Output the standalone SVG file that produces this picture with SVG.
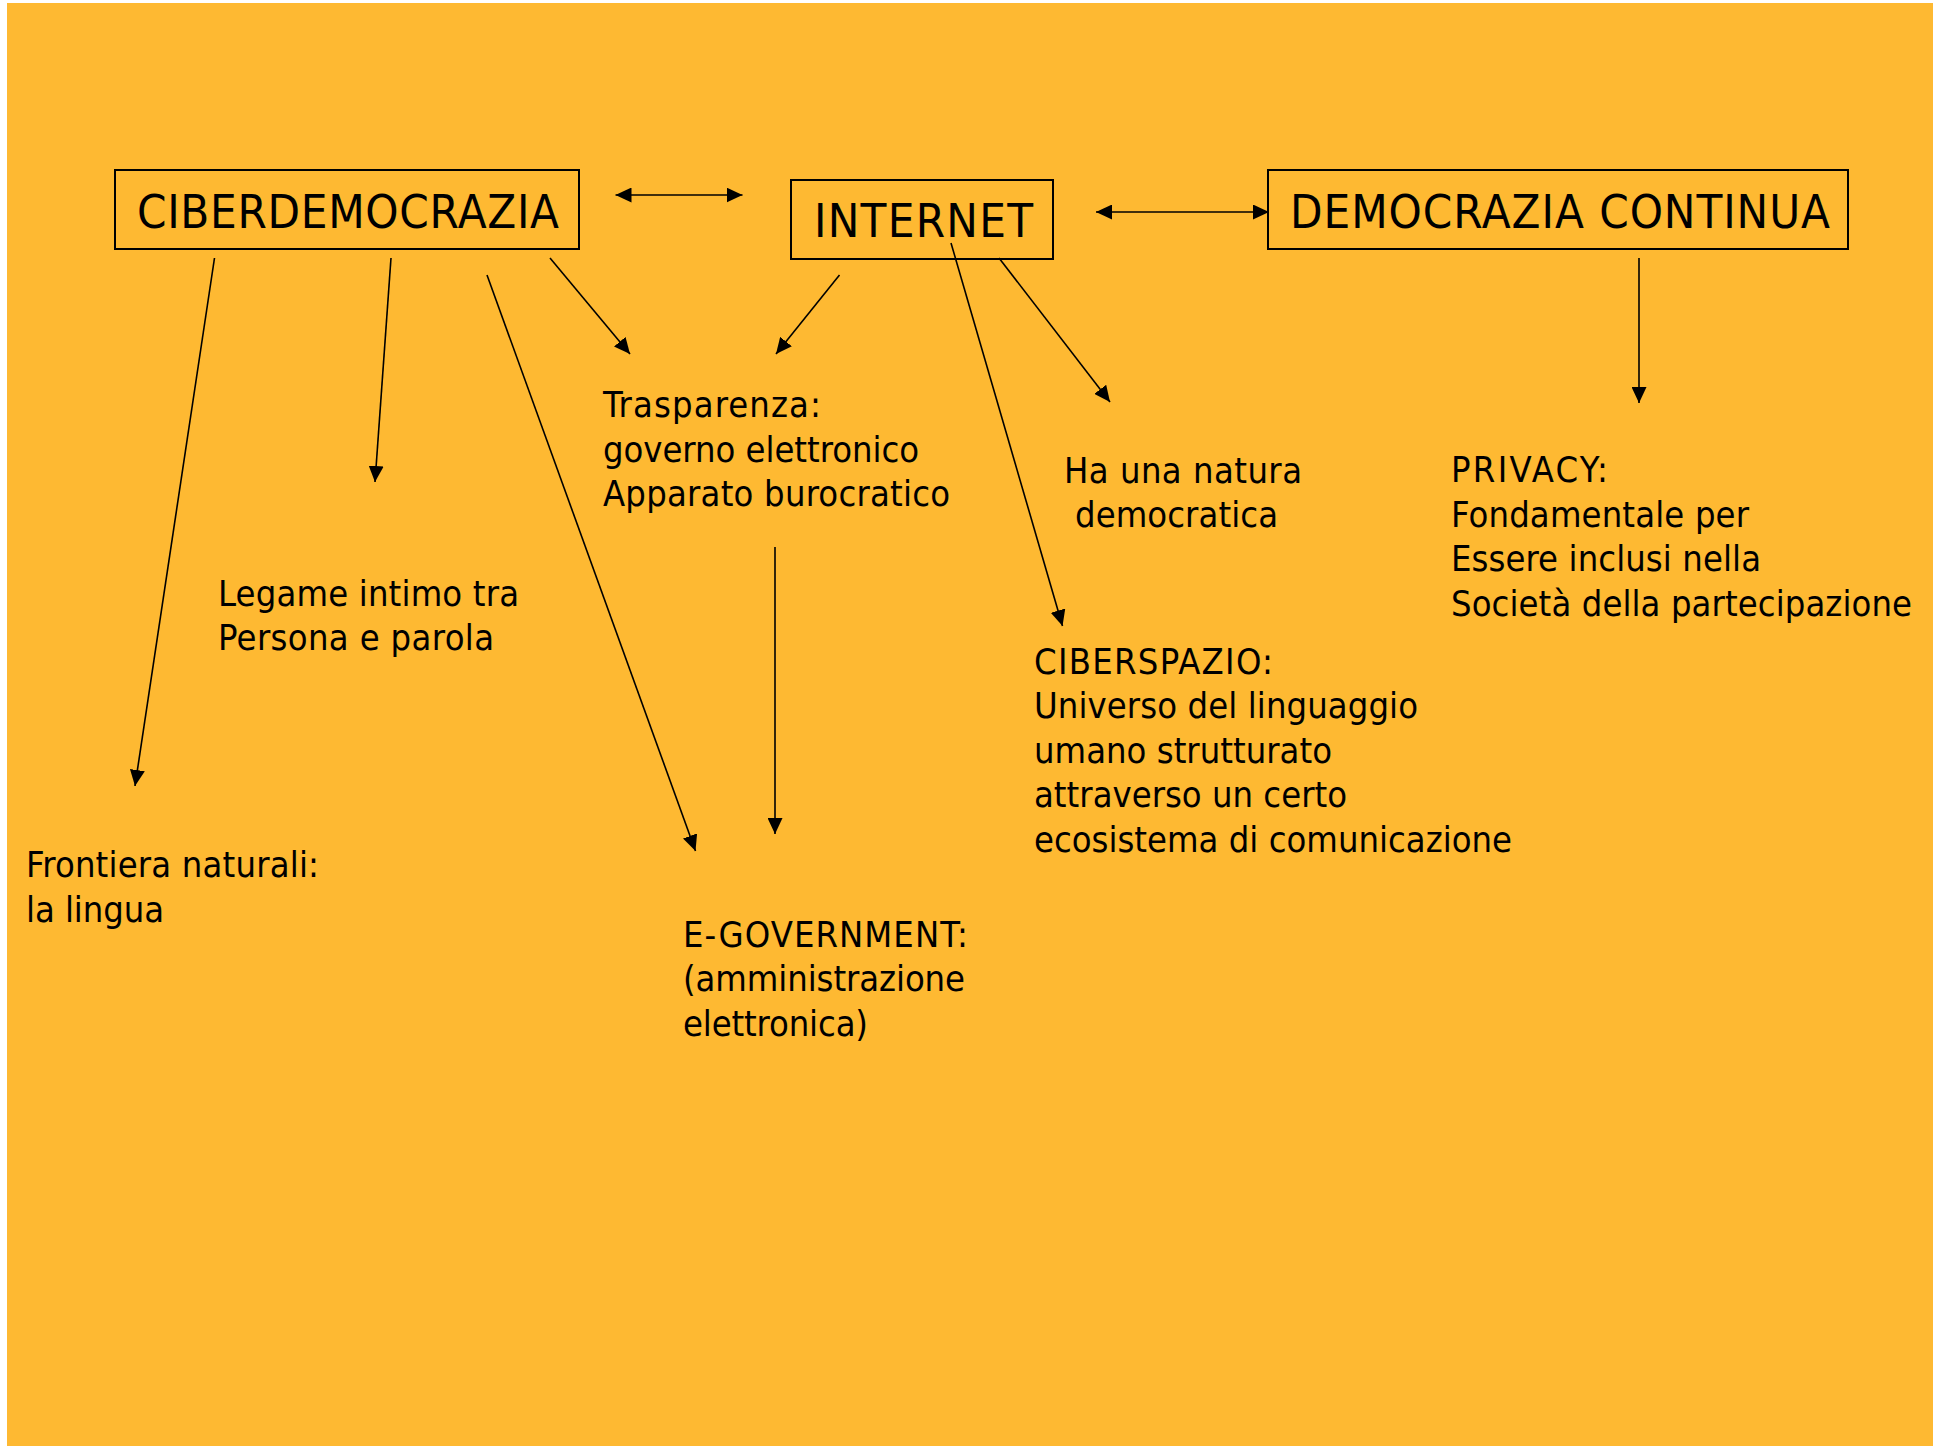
<svg xmlns="http://www.w3.org/2000/svg" width="1933" height="1446" viewBox="0 0 1933 1446">
<style>
.bg{fill:#FEB932}
.box{fill:none;stroke:#000;stroke-width:2}
.title{font-family:"DejaVu Sans Condensed","DejaVu Sans",sans-serif;font-stretch:condensed;font-size:47px;fill:#000}
.txt{font-family:"DejaVu Sans Condensed","DejaVu Sans",sans-serif;font-stretch:condensed;font-size:36px;fill:#000}
.con{stroke:#000;stroke-width:1.6;fill:none}
.a{marker-end:url(#ah)}
.d{marker-start:url(#ah);marker-end:url(#ah)}
</style>
<defs>
<marker id="ah" markerUnits="userSpaceOnUse" markerWidth="16" markerHeight="15" refX="16" refY="7.5" orient="auto-start-reverse" viewBox="0 0 16 15">
<path d="M0,0 L16,7.5 L0,15 Z" fill="#000"/>
</marker>
</defs>
<rect x="0" y="0" width="1933" height="1446" fill="#fff"/>
<rect class="bg" x="7" y="3" width="1926" height="1443"/>

<g id="connectors">
<line class="con a" x1="214.5" y1="258" x2="135" y2="786"/>
<line class="con a" x1="391" y1="258" x2="375" y2="482"/>
<line class="con a" x1="487" y1="275" x2="695.5" y2="851"/>
<line class="con a" x1="550" y1="258" x2="630" y2="354"/>
<line class="con a" x1="839.5" y1="275" x2="776" y2="354"/>
<line class="con a" x1="999" y1="258" x2="1110" y2="402"/>
<line class="con a" x1="951" y1="243" x2="1062.5" y2="626"/>
<line class="con a" x1="1639" y1="258" x2="1639" y2="403"/>
<line class="con a" x1="775" y1="547" x2="775" y2="834"/>
<line class="con d" x1="615.5" y1="195" x2="742.5" y2="195"/>
<line class="con d" x1="1096" y1="212" x2="1269" y2="212"/>
</g>

<g id="ciberdemocrazia">
<rect class="box" x="115" y="170" width="464" height="79"/>
<text class="title" x="137" y="228" textLength="422">CIBERDEMOCRAZIA</text>
</g>
<g id="internet">
<rect class="box" x="791" y="180" width="262" height="79"/>
<text class="title" x="814" y="237" textLength="219">INTERNET</text>
</g>
<g id="democrazia-continua">
<rect class="box" x="1268" y="170" width="580" height="79"/>
<text class="title" x="1290" y="228" textLength="540">DEMOCRAZIA CONTINUA</text>
</g>

<g id="trasparenza">
<text class="txt" x="603" y="417" textLength="218">Trasparenza:</text>
<text class="txt" x="603" y="461.5" textLength="316">governo elettronico</text>
<text class="txt" x="603" y="506" textLength="347">Apparato burocratico</text>
</g>
<g id="natura-democratica">
<text class="txt" x="1064" y="482.5" textLength="238">Ha una natura</text>
<text class="txt" x="1075" y="527" textLength="203">democratica</text>
</g>
<g id="privacy">
<text class="txt" x="1451" y="482" textLength="157">PRIVACY:</text>
<text class="txt" x="1451" y="526.5" textLength="298">Fondamentale per</text>
<text class="txt" x="1451" y="571" textLength="310">Essere inclusi nella</text>
<text class="txt" x="1451" y="615.5" textLength="461">Società della partecipazione</text>
</g>
<g id="legame">
<text class="txt" x="218" y="605.5" textLength="301">Legame intimo tra</text>
<text class="txt" x="218" y="650" textLength="276">Persona e parola</text>
</g>
<g id="ciberspazio">
<text class="txt" x="1034" y="673.5" textLength="239">CIBERSPAZIO:</text>
<text class="txt" x="1034" y="718" textLength="384">Universo del linguaggio</text>
<text class="txt" x="1034" y="762.5" textLength="298">umano strutturato</text>
<text class="txt" x="1034" y="807" textLength="313">attraverso un certo</text>
<text class="txt" x="1034" y="852" textLength="478">ecosistema di comunicazione</text>
</g>
<g id="frontiera">
<text class="txt" x="26" y="877" textLength="293">Frontiera naturali:</text>
<text class="txt" x="26" y="921.5" textLength="138">la lingua</text>
</g>
<g id="e-government">
<text class="txt" x="683" y="946.5" textLength="285">E-GOVERNMENT:</text>
<text class="txt" x="683" y="991" textLength="282">(amministrazione</text>
<text class="txt" x="683" y="1035.5" textLength="185">elettronica)</text>
</g>
</svg>
